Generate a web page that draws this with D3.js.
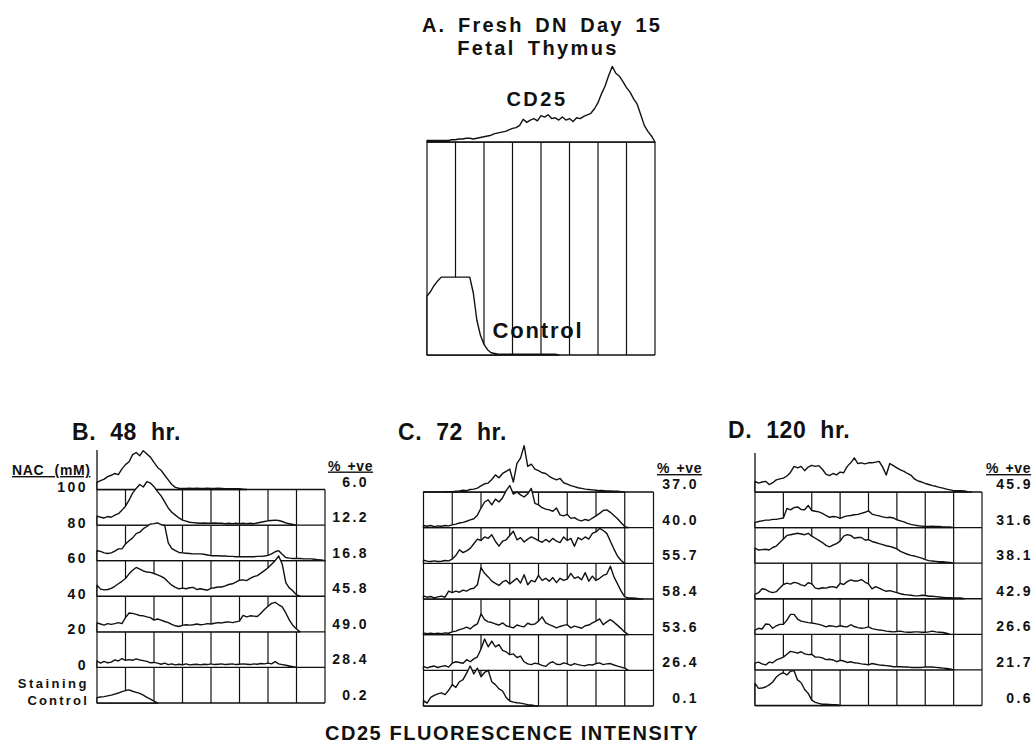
<!DOCTYPE html>
<html><head><meta charset="utf-8">
<script src="https://cdn.jsdelivr.net/npm/d3@7"></script>
<style>
body{margin:0;background:#fff}
svg{display:block}
text{font-family:"Liberation Sans",Arial,Helvetica,sans-serif;font-weight:bold;fill:#111}
</style>
</head><body>
<svg id="chart" width="1034" height="743"></svg>
<script>
// ---- data ----
// histogram samples, spaced 0.125 of a log decade (grid has 8 decades); values = % of row height
const STEP = 0.125;
const DECADES = [0,1,2,3,4,5,6,7,8];

// Panel A (fresh DN day 15 fetal thymus), values scaled to the CD25 peak = 100
const aCD25 = [2,2,2,2,2,2,2,3,3,4,4,5,5,4,5,6,7,8,9,11,12,13,14,16,18,19,22,30,26,29,31,28,35,33,36,31,32,29,33,29,31,27,32,31,34,36,38,44,52,64,74,88,100,91,87,80,72,66,57,50,36,22,14,8,0];
const aControl = [78,84,92,98,103,103,103,103,103,103,103,103,103,82,46,26,14,7,3,2,1,1,1,1,1,1,1,1,1,1,1,1,1,1,1,1,1,0];

// Panel B: 48 hr
const b100 = [20,25,29,36,40,45,42,58,70,78,98,104,95,109,100,91,76,62,54,40,27,14,6,4,3,3,4,3,4,3,3,4,3,3,4,3,2,2,2,2,2,1,0];
const b80 = [25,22,20,24,22,28,32,42,53,70,90,103,114,107,122,118,108,94,82,65,48,36,28,20,14,11,8,7,6,5,6,5,5,6,5,5,4,5,4,5,4,5,4,5,4,6,8,10,12,13,14,13,10,6,4,2,0];
const b60 = [28,26,22,20,22,27,33,33,47,56,64,76,80,90,96,103,104,106,101,99,50,34,28,23,22,21,20,19,19,19,18,16,14,14,14,13,13,12,12,11,11,11,11,11,11,12,12,13,15,19,25,28,18,9,7,6,6,6,5,5,5,4,3,2,0];
const b40 = [31,20,18,19,22,28,35,42,50,63,73,81,76,71,68,67,64,60,56,50,40,31,25,21,23,21,24,25,19,21,19,17,22,24,26,26,29,33,35,40,45,46,44,50,55,58,65,72,80,90,100,113,90,38,23,15,4,0];
const b20 = [25,22,19,23,21,23,26,23,40,53,52,49,46,45,42,40,33,36,33,29,26,21,17,15,18,20,19,20,22,20,21,23,22,24,26,25,27,28,26,28,30,46,42,45,44,43,52,63,72,80,83,76,70,53,33,18,8,0];
const b0 = [18,12,17,13,15,21,18,25,20,22,20,24,21,19,17,13,14,12,9,12,8,10,7,9,7,10,7,8,9,7,9,8,10,8,9,10,8,9,10,8,9,10,9,8,10,9,11,10,12,10,16,10,8,6,4,2,0];
const bCtrl = [15,17,18,20,22,25,28,32,35,37,33,30,27,22,16,11,5,0];

// Panel C: 72 hr
const c370 = [0,0,0,0,0,0,1,1,1,2,3,5,4,7,8,11,17,23,25,35,48,40,52,58,64,28,80,95,130,72,78,64,60,54,52,44,38,34,38,26,22,18,15,12,10,8,7,6,5,4,4,3,3,2,2,1,0];
const c400 = [6,4,6,3,5,4,6,5,8,10,13,15,18,22,25,35,55,72,78,64,80,72,84,104,118,94,100,92,86,95,110,68,64,56,52,50,46,55,36,33,37,26,28,22,19,23,20,27,33,40,48,50,43,34,25,14,3,0];
const c557 = [9,6,5,7,5,6,8,7,12,22,38,30,35,42,55,68,64,74,70,80,62,48,62,66,78,90,66,72,60,68,74,69,64,59,67,60,70,62,58,74,64,70,48,72,66,74,68,84,88,98,92,84,62,40,20,8,0];
const c584 = [9,5,7,3,6,8,5,22,18,22,19,25,22,28,30,40,88,72,62,50,44,38,48,52,42,50,58,45,68,40,52,48,66,52,58,50,60,46,58,52,56,72,58,62,54,74,50,64,52,58,66,70,92,62,42,22,6,3,3,2,1,0];
const c536 = [5,3,4,3,4,3,5,4,8,10,14,17,21,16,25,30,58,42,36,34,30,27,33,25,22,19,27,24,22,32,28,30,38,50,33,28,24,19,23,26,28,19,24,21,18,25,27,33,38,44,28,36,42,35,26,17,7,0];
const c264 = [11,7,10,12,8,11,13,9,20,24,22,20,30,24,32,38,60,88,66,82,66,72,56,52,44,46,36,40,24,18,16,20,18,14,11,20,24,17,16,21,18,14,19,16,14,13,16,15,19,21,16,18,19,15,12,9,6,0];
const c01 = [15,8,24,30,34,37,32,44,60,52,68,74,92,112,90,106,82,94,100,68,60,48,42,24,14,11,9,8,6,4,3,1,0];

// Panel D: 120 hr
const d459 = [30,25,28,30,21,26,34,37,39,45,55,72,68,72,60,70,75,72,74,64,50,46,52,48,56,54,72,82,96,80,82,79,82,82,84,86,70,48,80,74,68,62,58,52,47,36,31,28,24,21,18,16,13,11,8,6,4,4,4,3,1,0];
const d316 = [14,17,19,21,21,23,23,25,27,54,50,56,58,51,50,62,48,46,44,40,34,29,31,30,26,30,33,34,36,37,40,43,47,38,35,33,30,28,29,27,22,19,16,12,9,7,5,4,3,3,4,3,3,2,2,2,0];
const d381 = [42,37,38,39,37,44,48,58,68,78,80,82,84,82,80,84,76,70,64,58,50,46,51,55,62,76,80,78,70,72,72,65,66,61,58,55,52,49,47,44,40,33,29,25,22,20,17,14,10,7,6,5,4,4,3,2,0];
const d429 = [12,17,28,26,20,17,20,30,40,44,41,46,44,39,36,45,42,30,28,31,30,33,34,31,43,40,48,53,50,50,54,47,42,28,34,30,25,21,23,20,17,14,12,11,10,8,8,10,9,7,7,6,5,4,3,3,2,2,2,0];
const d266 = [12,17,15,29,28,17,24,28,28,40,56,56,43,37,35,33,32,30,28,25,21,24,23,21,24,22,21,27,22,19,17,18,21,16,14,12,11,9,8,7,8,9,7,6,6,7,7,6,6,7,9,7,6,5,3,0];
const d217 = [19,22,17,14,22,20,28,32,36,44,52,50,47,51,45,43,44,36,36,34,29,30,28,23,27,25,21,23,20,19,17,16,14,18,16,14,13,12,11,9,9,9,8,8,7,7,7,7,8,8,8,7,6,5,4,3,0];
const d06 = [62,48,49,52,58,66,80,88,92,86,96,98,72,64,45,34,15,9,6,4,4,3,2,2,0];

// labels
const nacLevels = ["100","80","60","40","20","0"];
const bPct = ["6.0","12.2","16.8","45.8","49.0","28.4","0.2"];
const cPct = ["37.0","40.0","55.7","58.4","53.6","26.4","0.1"];
const dPct = ["45.9","31.6","38.1","42.9","26.6","21.7","0.6"];

// ---- drawing ----
const svg = d3.select("#chart");
const INK = "#111";

function drawPanel(cfg) {
  const g = svg.append("g");
  const x = d3.scaleLinear().domain([0, 8]).range([cfg.left, cfg.right]);
  const rowH = (cfg.bottom - cfg.top) / cfg.rows;
  const y = d3.scaleLinear().domain([0, 100]).range([0, cfg.unitPx || rowH]);
  // vertical decade grid
  g.selectAll("line.v").data(DECADES).join("line")
    .attr("x1", d => x(d)).attr("x2", d => x(d))
    .attr("y1", cfg.top).attr("y2", cfg.bottom)
    .attr("stroke", INK).attr("stroke-width", 1.2);
  // horizontal row lines
  g.selectAll("line.h").data(d3.range(cfg.rows + 1)).join("line")
    .attr("x1", cfg.left).attr("x2", cfg.right)
    .attr("y1", k => cfg.top + k * rowH).attr("y2", k => cfg.top + k * rowH)
    .attr("stroke", INK).attr("stroke-width", 1.3);
  if (cfg.axisTop != null) {
    g.append("line").attr("x1", cfg.left).attr("x2", cfg.left)
      .attr("y1", cfg.axisTop).attr("y2", cfg.top)
      .attr("stroke", INK).attr("stroke-width", 1.3);
  }
  // histograms, top to bottom, white-filled
  cfg.hists.forEach((vals, k) => {
    const base = cfg.top + k * rowH;
    const area = d3.area()
      .x((d, i) => x(i * STEP))
      .y0(base)
      .y1(d => base - y(d));
    g.append("path").datum(vals).attr("d", area)
      .attr("fill", "#fff").attr("stroke", INK)
      .attr("stroke-width", 1.4).attr("stroke-linejoin", "round");
  });
  // percent positive labels
  if (cfg.pct) {
    g.append("text").attr("x", cfg.pctX).attr("y", cfg.top - 19)
      .attr("text-anchor", "start").attr("font-size", 14)
      .attr("text-decoration", "underline").attr("letter-spacing", 0.6).attr("word-spacing", 2)
      .text("% +ve");
    g.selectAll("text.p").data(cfg.pct).join("text")
      .attr("x", cfg.valX).attr("y", (d, k) => cfg.top + k * rowH - 3)
      .attr("text-anchor", "end").attr("font-size", 14).attr("letter-spacing", 2.4)
      .text(d => d);
  }
  if (cfg.title) {
    g.append("text").attr("x", cfg.titleX).attr("y", cfg.titleY)
      .attr("font-size", 23).attr("word-spacing", 7).attr("letter-spacing", 0.6)
      .text(cfg.title);
  }
  return {x, rowH};
}

// Panel A
drawPanel({left: 427, right: 655, top: 142, bottom: 355, rows: 1, unitPx: 75.6,
  hists: [aCD25, aControl]});
svg.append("text").attr("x", 542).attr("y", 32).attr("text-anchor", "middle")
  .attr("font-size", 20).attr("letter-spacing", 2.2).attr("word-spacing", 4).text("A. Fresh DN Day 15");
svg.append("text").attr("x", 538).attr("y", 55).attr("text-anchor", "middle")
  .attr("font-size", 20).attr("letter-spacing", 2.4).attr("word-spacing", 4).text("Fetal Thymus");
svg.append("text").attr("x", 537).attr("y", 106).attr("text-anchor", "middle")
  .attr("font-size", 20).attr("letter-spacing", 2.5).text("CD25");
svg.append("text").attr("x", 538).attr("y", 338).attr("text-anchor", "middle")
  .attr("font-size", 22).attr("letter-spacing", 1.8).text("Control");

// Panel B
const pB = drawPanel({left: 97, right: 325, top: 489.5, bottom: 703, rows: 6, axisTop: 450,
  hists: [b100, b80, b60, b40, b20, b0, bCtrl], pct: bPct, pctX: 328, valX: 369,
  title: "B. 48 hr.", titleX: 72, titleY: 440});
svg.selectAll("text.nac").data(nacLevels).join("text")
  .attr("x", 88).attr("y", (d, k) => 489.5 + k * pB.rowH + 2.5)
  .attr("text-anchor", "end").attr("font-size", 14).attr("letter-spacing", 2.5)
  .text(d => d);
svg.append("text").attr("x", 89).attr("y", 688).attr("text-anchor", "end")
  .attr("font-size", 13).attr("letter-spacing", 2.5).text("Staining");
svg.append("text").attr("x", 89).attr("y", 705).attr("text-anchor", "end")
  .attr("font-size", 13).attr("letter-spacing", 2.2).text("Control");
svg.append("text").attr("x", 12).attr("y", 475)
  .attr("font-size", 14).attr("word-spacing", 6).attr("letter-spacing", 0.6)
  .attr("text-decoration", "underline").text("NAC (mM)");

// Panel C
drawPanel({left: 423.5, right: 653.5, top: 492, bottom: 706, rows: 6,
  hists: [c370, c400, c557, c584, c536, c264, c01], pct: cPct, pctX: 657, valX: 699,
  title: "C. 72 hr.", titleX: 398, titleY: 440});

// Panel D
drawPanel({left: 755, right: 982, top: 492, bottom: 705.5, rows: 6, axisTop: 453,
  hists: [d459, d316, d381, d429, d266, d217, d06], pct: dPct, pctX: 986, valX: 1033,
  title: "D. 120 hr.", titleX: 728, titleY: 438});

// x-axis title
svg.append("text").attr("x", 512).attr("y", 740).attr("text-anchor", "middle")
  .attr("font-size", 20).attr("letter-spacing", 1.55).text("CD25 FLUORESCENCE INTENSITY");
</script>
</body></html>
